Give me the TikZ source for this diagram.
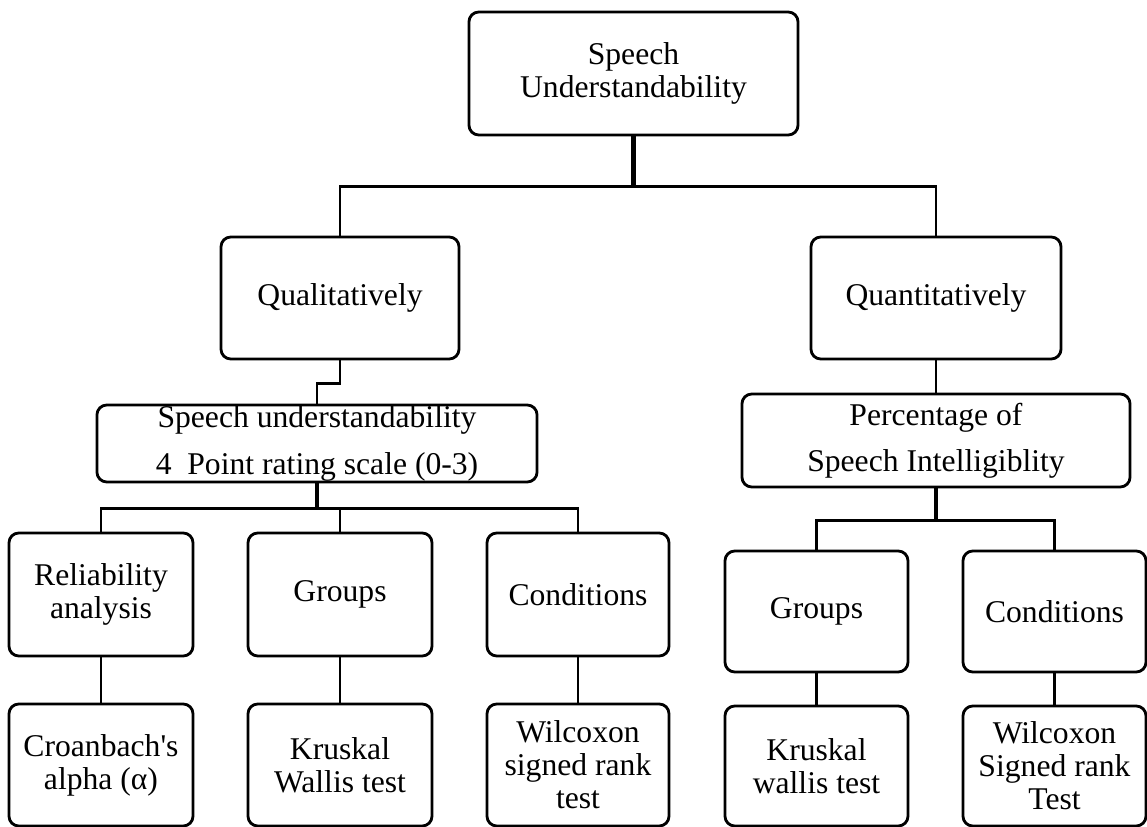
\documentclass[tikz,border=0pt]{standalone}
\usepackage{fontspec}
\setmainfont{Liberation Serif}[Ligatures=TeXOff]
\begin{document}
\begin{tikzpicture}[x=0.025cm,y=-0.025cm,
  font=\fontsize{22.5}{23.5}\selectfont,
  box/.style={draw,rounded corners=7pt,line width=2pt,align=center,inner sep=0pt},
  wide/.style={font=\fontsize{22.5}{33}\selectfont},
  link/.style={line width=1.8pt},
  trunk/.style={line width=3pt}]

\useasboundingbox (0,0) rectangle (1147,827);

% root
\node[box,minimum width=8.225cm,minimum height=3.075cm] (root) at (633.5,73.5) {Speech\\Understandability};

% methods
\node[box,minimum width=5.95cm,minimum height=3.05cm] (qual) at (340,298) {Qualitatively};
\node[box,minimum width=6.25cm,minimum height=3.05cm] (quant) at (936,298) {Quantitatively};

% measures
\node[box,wide,minimum width=11cm,minimum height=1.925cm] (rating) at (317,443.5) {Speech understandability\\4~~Point rating scale (0-3)};
\node[box,wide,minimum width=9.7cm,minimum height=2.325cm] (percent) at (936,440.5) {Percentage of\\Speech Intelligiblity};

% analyses, qualitative side
\node[box,minimum width=4.6cm,minimum height=3.075cm] (relia) at (101,594.5) {Reliability\\analysis};
\node[box,minimum width=4.6cm,minimum height=3.075cm] (groupsA) at (340,594.5) {Groups};
\node[box,minimum width=4.55cm,minimum height=3.075cm] (condA) at (578,594.5) {Conditions};

% analyses, quantitative side
\node[box,minimum width=4.575cm,minimum height=3.025cm] (groupsB) at (816.5,611.5) {Groups};
\node[box,minimum width=4.575cm,minimum height=3.025cm] (condB) at (1054.5,611.5) {Conditions};

% tests
\node[box,minimum width=4.6cm,minimum height=3.05cm] (alpha) at (101,765) {Croanbach's\\alpha (α)};
\node[box,minimum width=4.6cm,minimum height=3.05cm] (kruskA) at (340,765) {Kruskal\\Wallis test};
\node[box,minimum width=4.55cm,minimum height=3.05cm] (wilcA) at (578,765) {Wilcoxon\\signed rank\\test};
\node[box,minimum width=4.575cm,minimum height=3cm] (kruskB) at (816.5,766) {Kruskal\\wallis test};
\node[box,minimum width=4.575cm,minimum height=3cm] (wilcB) at (1054.5,766) {Wilcoxon\\Signed rank\\Test};

% links
\draw[trunk] (root.south) -- ++(0,50) coordinate (j1);
\draw[link] (qual.north) |- (j1) -| (quant.north);
\draw[link] (qual.south) -- ++(0,23) -| (rating.north);
\draw[trunk] (rating.south) -- ++(0,25) coordinate (j2);
\draw[link] (relia.north) |- (j2) -| (condA.north);
\draw[link] (groupsA.north) -- (groupsA.north |- j2);
\draw[link] (quant.south) -- (percent.north);
\draw[trunk] (percent.south) -- ++(0,32) coordinate (j3);
\draw[link] (groupsB.north) |- (j3) -| (condB.north);
\draw[link] (relia.south) -- (alpha.north);
\draw[link] (groupsA.south) -- (kruskA.north);
\draw[link] (condA.south) -- (wilcA.north);
\draw[link] (groupsB.south) -- (kruskB.north);
\draw[link] (condB.south) -- (wilcB.north);

\end{tikzpicture}
\end{document}
